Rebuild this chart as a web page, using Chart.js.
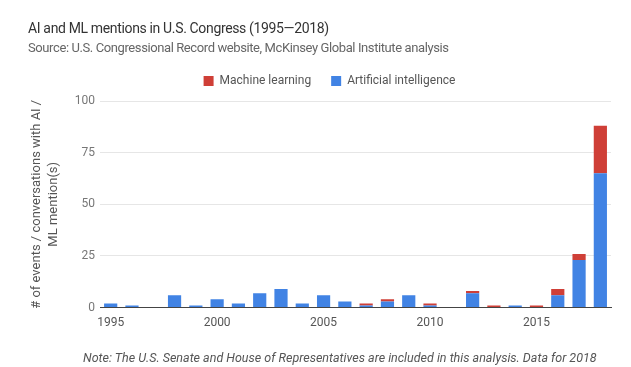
<!DOCTYPE html>
<html>
<head>
<meta charset="utf-8">
<script src="https://cdn.jsdelivr.net/npm/chart.js@4.4.0/dist/chart.umd.min.js"></script>
<style>
  body { margin: 0; background: #fff; font-family: Roboto, sans-serif; }
  #wrap { position: relative; width: 631px; height: 367px; overflow: hidden; }
  #title { position: absolute; left: 28px; top: 20px; font-size: 14px; letter-spacing: -0.35px; color: #333; }
  #sub { position: absolute; left: 28px; top: 40px; font-size: 13px; letter-spacing: -0.4px; color: #666; }
  #note { position: absolute; left: 83px; top: 350px; font-size: 12.5px; font-style: italic; color: #555; white-space: nowrap; }
  canvas { position: absolute; left: 0; top: 0; }
</style>
</head>
<body>
<div id="wrap">
  <canvas id="chart" width="631" height="367"></canvas>
  <div id="title">AI and ML mentions in U.S. Congress (1995—2018)</div>
  <div id="sub">Source: U.S. Congressional Record website, McKinsey Global Institute analysis</div>
  <div id="note">Note: The U.S. Senate and House of Representatives are included in this analysis. Data for 2018</div>
</div>
<script>
const years = ['1995', '1996', '1997', '1998', '1999', '2000', '2001', '2002', '2003', '2004', '2005', '2006',
               '2007', '2008', '2009', '2010', '2011', '2012', '2013', '2014', '2015', '2016', '2017', '2018'];
const aiMentions = [2, 1, 0, 6, 1, 4, 2, 7, 9, 2, 6, 3, 1, 3, 6, 1, 0, 7, 0, 1, 0, 6, 23, 65];
const mlMentions = [0, 0, 0, 0, 0, 0, 0, 0, 0, 0, 0, 0, 1, 1, 0, 1, 0, 1, 1, 0, 1, 3, 3, 23];
const yTicks = [0, 25, 50, 75, 100];

// nudge the legend right and leave a little more room under it
const legendTweak = {
    id: 'legendTweak',
    beforeLayout(chart) {
        const lg = chart.legend;
        if (lg && !lg._tweaked) {
            const fit = lg.fit;
            lg.fit = function () { fit.call(this); this.height += 4; };
            lg._tweaked = true;
        }
    },
    afterLayout(chart) {
        chart.legend.left += 10;
        chart.legend.right += 10;
    }
};

const ctx = document.getElementById('chart').getContext('2d');
const chart = new Chart(ctx, {
    type: 'bar',
    data: {
        labels: years,
        datasets: [{
            label: 'Artificial intelligence',
            data: aiMentions,
            backgroundColor: '#4183e4',
            barPercentage: 0.62,
            categoryPercentage: 1
        }, {
            label: 'Machine learning',
            data: mlMentions,
            backgroundColor: '#cf3f37',
            barPercentage: 0.62,
            categoryPercentage: 1
        }]
    },
    options: {
        responsive: false,
        animation: false,
        layout: { padding: { top: 55, bottom: 37, left: 28, right: 20 } },
        plugins: {
            legend: {
                reverse: true,
                labels: { boxWidth: 10, boxHeight: 10, padding: 20, color: '#555', font: { family: 'Roboto', size: 12 } }
            },
            tooltip: { enabled: false }
        },
        scales: {
            x: {
                stacked: true,
                grid: { display: false },
                border: { color: '#444' },
                ticks: {
                    autoSkip: false, maxRotation: 0, padding: 0, color: '#555',
                    font: { family: 'Roboto', size: 12 },
                    callback: function (v, i) { return (+years[i]) % 5 === 0 ? years[i] : ''; }
                }
            },
            y: {
                stacked: true,
                min: 0, max: 100,
                afterBuildTicks: function (axis) { axis.ticks = yTicks.map(v => ({ value: v })); },
                grid: { color: '#e6e6e6', drawTicks: false },
                border: { display: false },
                ticks: { padding: 5, color: '#777', font: { family: 'Roboto', size: 12 } },
                title: {
                    display: true,
                    text: ['# of events / conversations with AI /', 'ML mention(s)'],
                    color: '#555',
                    font: { family: 'Roboto', size: 13, lineHeight: 1.3 },
                    padding: { top: 0, bottom: 8 }
                }
            }
        }
    },
    plugins: [legendTweak]
});
</script>
</body>
</html>
